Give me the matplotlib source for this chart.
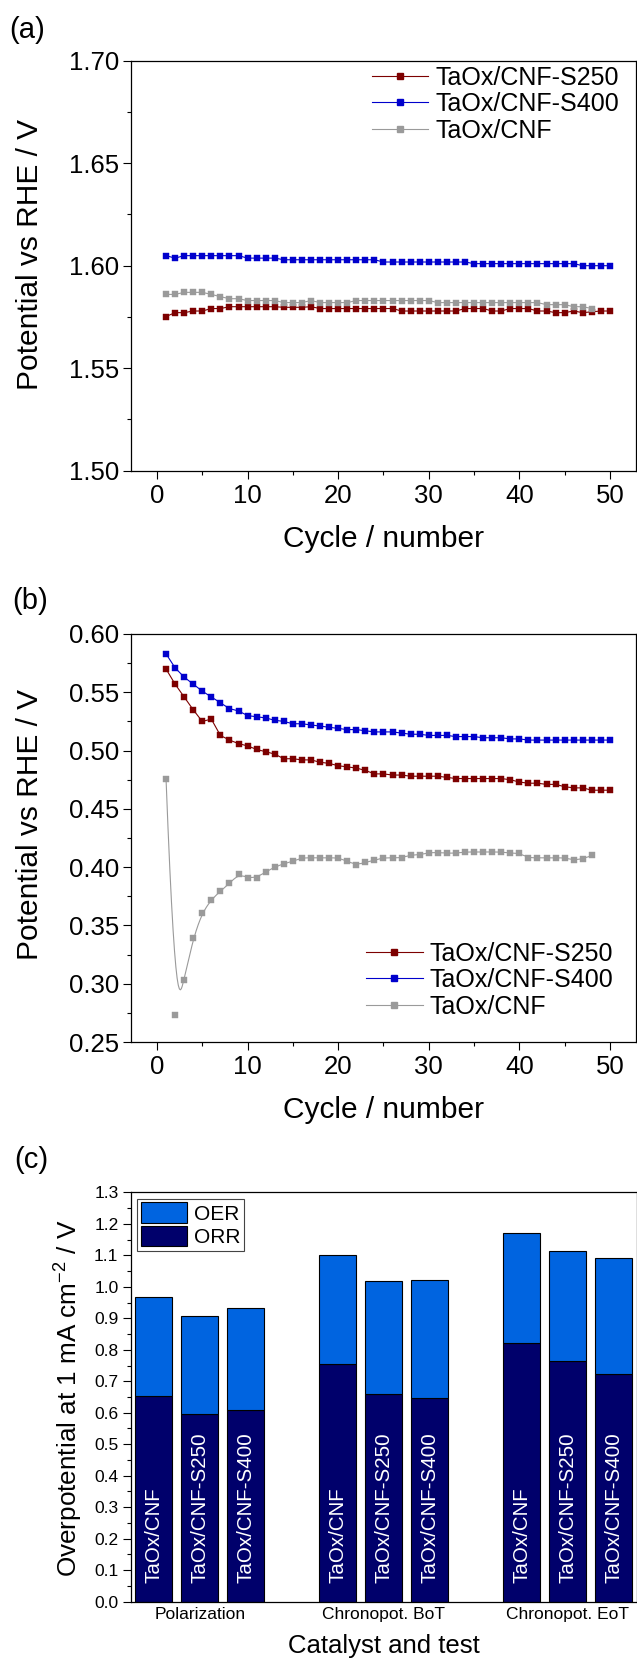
import numpy as np
import matplotlib
matplotlib.use("Agg")
import matplotlib.pyplot as plt
from matplotlib.lines import Line2D
from matplotlib.ticker import MultipleLocator, FormatStrFormatter

plt.rcParams['font.family'] = ['Liberation Sans', 'DejaVu Sans']
plt.rcParams['mathtext.fontset'] = 'custom'
plt.rcParams['mathtext.rm'] = 'Liberation Sans'
plt.rcParams['mathtext.it'] = 'Liberation Sans:italic'

# ---------------- data ----------------
cycles = np.arange(1, 51)
series_names = ["TaOx/CNF-S250", "TaOx/CNF-S400", "TaOx/CNF"]

a_s250 = [1.5752, 1.5771, 1.5771, 1.5779, 1.5779, 1.5791, 1.5791, 1.5800, 1.5800, 1.5800,
          1.5800, 1.5800, 1.5800, 1.5797, 1.5797, 1.5797, 1.5800, 1.5791, 1.5791, 1.5791,
          1.5791, 1.5791, 1.5791, 1.5791, 1.5791, 1.5791, 1.5779, 1.5779, 1.5779, 1.5779,
          1.5779, 1.5779, 1.5779, 1.5791, 1.5791, 1.5791, 1.5779, 1.5779, 1.5791, 1.5791,
          1.5791, 1.5779, 1.5779, 1.5771, 1.5771, 1.5779, 1.5771, 1.5775, 1.5779, 1.5779]
a_s400 = ([1.6049, 1.6037] + [1.6049] * 7 + [1.6037] * 4 + [1.6029] * 11 +
          [1.6018] * 10 + [1.6010] * 12 + [1.6000] * 4)
a_cnf = ([1.5860] * 2 + [1.5870] * 3 + [1.5860, 1.5849] + [1.5839] * 2 + [1.5830] * 4 +
         [1.5820] * 3 + [1.5830] + [1.5820] * 4 + [1.5830] * 9 + [1.5820] * 12 +
         [1.5810] * 3 + [1.5800] * 2 + [1.5791])

b_s250 = [0.570, 0.557, 0.546, 0.535, 0.525, 0.527, 0.513, 0.509, 0.506, 0.504,
          0.501, 0.499, 0.497, 0.493, 0.493, 0.492, 0.492, 0.490, 0.489, 0.487,
          0.486, 0.485, 0.483, 0.480, 0.480, 0.479, 0.479, 0.478, 0.478, 0.478,
          0.478, 0.477, 0.476, 0.476, 0.476, 0.476, 0.476, 0.476, 0.475, 0.473,
          0.472, 0.472, 0.471, 0.471, 0.469, 0.468, 0.468, 0.466, 0.466, 0.466]
b_s400 = [0.583, 0.571, 0.563, 0.557, 0.551, 0.546, 0.541, 0.536, 0.534, 0.530,
          0.529, 0.528, 0.526, 0.525, 0.523, 0.523, 0.522, 0.521, 0.520, 0.519,
          0.518, 0.518, 0.517, 0.516, 0.516, 0.516, 0.515, 0.514, 0.514, 0.513,
          0.513, 0.513, 0.512, 0.512, 0.512, 0.511, 0.511, 0.511, 0.510, 0.510,
          0.509, 0.509, 0.509, 0.509, 0.509, 0.509, 0.509, 0.509, 0.509, 0.509]
b_cnf = [0.476, 0.273, 0.3035, 0.339, 0.361, 0.372, 0.3795, 0.386, 0.394, 0.391,
         0.391, 0.396, 0.400, 0.403, 0.405, 0.408, 0.408, 0.408, 0.408, 0.408,
         0.405, 0.402, 0.404, 0.406, 0.408, 0.408, 0.408, 0.4105, 0.4105, 0.4125,
         0.4125, 0.412, 0.412, 0.413, 0.413, 0.413, 0.413, 0.413, 0.412, 0.412,
         0.408, 0.408, 0.408, 0.408, 0.408, 0.406, 0.407, 0.410]

tests = ["Polarization", "Chronopot. BoT", "Chronopot. EoT"]
catalysts = ["TaOx/CNF", "TaOx/CNF-S250", "TaOx/CNF-S400"]
orr = [[0.654, 0.596, 0.609],
       [0.756, 0.660, 0.648],
       [0.821, 0.763, 0.722]]
oer = [[0.315, 0.312, 0.323],
       [0.344, 0.359, 0.375],
       [0.350, 0.350, 0.369]]

# ---------------- style ----------------
c_red = '#7d0000'
c_blue = '#0000cc'
c_gray = '#9a9a9a'
c_oer = '#0064e0'
c_orr = '#00006b'
colors = [c_red, c_blue, c_gray]

W, H = 637, 1660
fig = plt.figure(figsize=(W / 100, H / 100), dpi=100)

def px_axes(left, right, top, bottom):
    return fig.add_axes([left / W, 1 - bottom / H, (right - left) / W, (bottom - top) / H])

def style_axes(ax, ysize=18.5, major=5.5, minor=2.8):
    for s in ax.spines.values():
        s.set_linewidth(0.9)
    ax.tick_params(which='both', direction='out', width=0.8, top=False, right=False)
    ax.tick_params(which='major', length=major)
    ax.tick_params(which='minor', length=minor)
    ax.tick_params(axis='y', labelsize=ysize, pad=3)

def clamped_bspline(xs, ys, num=600, k=3):
    P = np.column_stack([xs, ys]).astype(float)
    n = len(P) - 1
    knots = np.concatenate([np.zeros(k), np.arange(0, n - k + 2), np.full(k, n - k + 1)]).astype(float)
    u = np.linspace(0, n - k + 1, num)
    m = len(knots) - 1
    N = np.zeros((num, m))
    for i in range(m):
        N[:, i] = ((knots[i] <= u) & (u < knots[i + 1])).astype(float)
    last = np.where(knots[:-1] < knots[1:])[0][-1]
    end = u >= knots[-1]
    N[end, :] = 0
    N[end, last] = 1
    for d in range(1, k + 1):
        Nn = np.zeros((num, m - d))
        for i in range(m - d):
            den1 = knots[i + d] - knots[i]
            den2 = knots[i + d + 1] - knots[i + 1]
            t1 = (u - knots[i]) / den1 * N[:, i] if den1 > 0 else 0.0
            t2 = (knots[i + d + 1] - u) / den2 * N[:, i + 1] if den2 > 0 else 0.0
            Nn[:, i] = t1 + t2
        N = Nn
    C = N @ P
    return C[:, 0], C[:, 1]

ms = 4.8
lw = 0.8

def legend_handles():
    return [Line2D([], [], color=c, marker='s', ms=ms * 0.85, lw=lw) for c in colors]

# ---------------- panel (a) ----------------
ax1 = px_axes(130.7, 636.2, 60.7, 470.7)
data_a = [a_s250, a_s400, a_cnf]
for vals, c in zip(data_a, colors):
    x = cycles[:len(vals)]
    ax1.plot(x, vals, '-', color=c, lw=lw, marker='s', ms=ms, mec=c, mew=0.3)
ax1.set_xlim(-2.9, 52.9)
ax1.set_ylim(1.50, 1.70)
ax1.xaxis.set_major_locator(MultipleLocator(10))
ax1.xaxis.set_minor_locator(MultipleLocator(5))
ax1.yaxis.set_major_locator(MultipleLocator(0.05))
ax1.yaxis.set_minor_locator(MultipleLocator(0.025))
ax1.yaxis.set_major_formatter(FormatStrFormatter('%.2f'))
style_axes(ax1)
ax1.tick_params(axis='x', labelsize=18.5, pad=4)
ax1.set_xlabel("Cycle / number", fontsize=21.5, va='center')
ax1.xaxis.set_label_coords(0.5, -0.1666)
ax1.set_ylabel("Potential vs RHE / V", fontsize=21.5, va='center')
ax1.yaxis.set_label_coords(-0.1983, 0.527)
ax1.legend(legend_handles(), series_names, loc='upper left', bbox_to_anchor=(0.4766, 0.988),
           frameon=False, fontsize=18, handlelength=2.27, handletextpad=0.27,
           borderpad=0, borderaxespad=0, labelspacing=0.1, numpoints=1)

# ---------------- panel (b) ----------------
ax2 = px_axes(130.7, 636.2, 634.0, 1042.0)
ax2.plot(cycles[:len(b_s250)], b_s250, '-', color=c_red, lw=lw, marker='s', ms=ms, mec=c_red, mew=0.3)
ax2.plot(cycles[:len(b_s400)], b_s400, '-', color=c_blue, lw=lw, marker='s', ms=ms, mec=c_blue, mew=0.3)
sx, sy = clamped_bspline(cycles[:len(b_cnf)], b_cnf)
ax2.plot(sx, sy, '-', color=c_gray, lw=lw)
ax2.plot(cycles[:len(b_cnf)], b_cnf, 's', color=c_gray, ms=ms, mec=c_gray, mew=0.3)
ax2.set_xlim(-2.9, 52.9)
ax2.set_ylim(0.25, 0.60)
ax2.xaxis.set_major_locator(MultipleLocator(10))
ax2.xaxis.set_minor_locator(MultipleLocator(5))
ax2.yaxis.set_major_locator(MultipleLocator(0.05))
ax2.yaxis.set_minor_locator(MultipleLocator(0.025))
ax2.yaxis.set_major_formatter(FormatStrFormatter('%.2f'))
style_axes(ax2)
ax2.tick_params(axis='x', labelsize=18.5, pad=4)
ax2.set_xlabel("Cycle / number", fontsize=21.5, va='center')
ax2.xaxis.set_label_coords(0.5, -0.1667)
ax2.set_ylabel("Potential vs RHE / V", fontsize=21.5, va='center')
ax2.yaxis.set_label_coords(-0.1983, 0.532)
ax2.legend(legend_handles(), series_names, loc='upper left', bbox_to_anchor=(0.465, 0.246),
           frameon=False, fontsize=18, handlelength=2.27, handletextpad=0.27,
           borderpad=0, borderaxespad=0, labelspacing=0.1, numpoints=1)

# ---------------- panel (c) ----------------
ax3 = px_axes(130.7, 636.8, 1192.3, 1601.7)
pos = []
orr_flat, oer_flat, names = [], [], []
for g in range(len(tests)):
    for i in range(len(catalysts)):
        pos.append(1 + 4 * g + i)
        orr_flat.append(orr[g][i])
        oer_flat.append(oer[g][i])
        names.append(catalysts[i])
bw = 0.81
b_orr = ax3.bar(pos, orr_flat, width=bw, color=c_orr, edgecolor='black', linewidth=0.8)
b_oer = ax3.bar(pos, oer_flat, width=bw, bottom=orr_flat, color=c_oer, edgecolor='black', linewidth=0.8)
for p, nm in zip(pos, names):
    ax3.text(p, 0.058, nm, rotation=90, ha='center', va='bottom', color='white', fontsize=14.8)
ax3.set_xlim(0.5, 11.5)
ax3.set_ylim(0, 1.3)
ax3.yaxis.set_major_locator(MultipleLocator(0.1))
ax3.yaxis.set_minor_locator(MultipleLocator(0.05))
ax3.yaxis.set_major_formatter(FormatStrFormatter('%.1f'))
style_axes(ax3, ysize=12.5, major=5.8, minor=2.9)
ax3.set_xticks([1 + 4 * g + 1 for g in range(len(tests))])
ax3.set_xticklabels(tests)
ax3.tick_params(axis='x', which='both', length=0, labelsize=12.5, pad=4)
ax3.set_xlabel("Catalyst and test", fontsize=18.5, va='center')
ax3.xaxis.set_label_coords(0.5, -0.1092)
ax3.set_ylabel("Overpotential at 1 mA cm$^{-2}$ / V", fontsize=18.8, va='center')
ax3.yaxis.set_label_coords(-0.1221, 0.496)
leg = ax3.legend([b_oer, b_orr], ["OER", "ORR"], loc='upper left', fontsize=15,
                 handlelength=2.24, handleheight=1.12, labelspacing=0.125, borderpad=0.16,
                 handletextpad=0.32, borderaxespad=0.32, fancybox=False, framealpha=1,
                 edgecolor='#444444')
leg.get_frame().set_linewidth(0.8)

# ---------------- panel letters ----------------
fig.text(9 / W, 1 - 30.3 / H, "(a)", fontsize=21, ha='left', va='center')
fig.text(12 / W, 1 - 601 / H, "(b)", fontsize=21, ha='left', va='center')
fig.text(14 / W, 1 - 1159.6 / H, "(c)", fontsize=21, ha='left', va='center')

fig.savefig("out.png", dpi=100)
